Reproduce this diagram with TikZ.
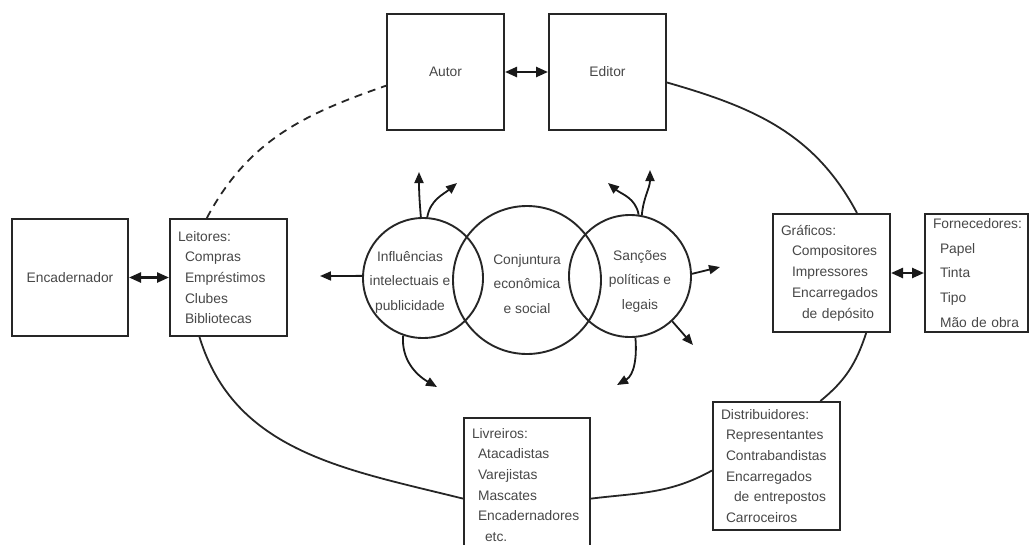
\documentclass[tikz,border=0pt]{standalone}
\usepackage{fontspec}
\setmainfont{Liberation Sans}
\usetikzlibrary{arrows.meta}

\begin{document}
\begin{tikzpicture}[
  x=1pt, y=1pt,
  every node/.style={font=\fontsize{13.8}{20.7}\selectfont, text=black!72},
  actor/.style={rectangle, draw=black!85, line width=2pt, inner xsep=8pt,
                inner ysep=0pt, align=left},
  sphere/.style={circle, draw=black!85, line width=1.9pt, inner sep=0pt},
  flow/.style={-{Triangle[length=11pt,width=9pt]}, line width=1.8pt, draw=black!90},
  duo/.style={{Triangle[length=12pt,width=10pt]}-{Triangle[length=12pt,width=10pt]},
              line width=2.4pt, draw=black!90},
  rim/.style={line width=1.8pt, draw=black!85}
]
\useasboundingbox (0,0) rectangle (1030,-544);
\clip (0,0) rectangle (1030,-544);

% agents
\node[actor, minimum width=117pt, minimum height=116pt] (autor)  at (445.5,-72) {Autor};
\node[actor, minimum width=117pt, minimum height=116pt] (editor) at (607.5,-72) {Editor};
\node[actor, minimum width=116pt, minimum height=117pt] (encad)  at (70,-277.5) {Encadernador};
\node[actor, text width=101pt, minimum height=117pt] (leitores) at (228.5,-277.5)
  {Leitores:\\\hspace*{7pt}Compras\\\hspace*{7pt}Empréstimos\\\hspace*{7pt}Clubes\\\hspace*{7pt}Bibliotecas};
\node[actor, text width=101pt, minimum height=118pt] (graficos) at (831.5,-273)
  {Gráficos:\\\hspace*{11pt}Compositores\\\hspace*{11pt}Impressores\\\hspace*{11pt}Encarregados\\\hspace*{21pt}de depósito};
\node[actor, text width=87pt, minimum height=118pt, font=\fontsize{13.8}{24.6}\selectfont] (fornec) at (976.5,-273)
  {Fornecedores:\\\hspace*{7pt}Papel\\\hspace*{7pt}Tinta\\\hspace*{7pt}Tipo\\\hspace*{7pt}Mão de obra};
\node[actor, text width=110pt, minimum height=134pt] (livreiros) at (527,-485)
  {Livreiros:\\\hspace*{6pt}Atacadistas\\\hspace*{6pt}Varejistas\\\hspace*{6pt}Mascates\\\hspace*{6pt}Encadernadores\\\hspace*{13pt}etc.};
\node[actor, text width=111pt, minimum height=128pt] (distrib) at (776.5,-466)
  {Distribuidores:\\\hspace*{5pt}Representantes\\\hspace*{5pt}Contrabandistas\\\hspace*{5pt}Encarregados\\\hspace*{13pt}de entrepostos\\\hspace*{5pt}Carroceiros};

% context circles
\node[sphere, minimum size=148pt] (conj) at (527,-280) {};
\node[sphere, minimum size=120pt] (infl) at (423,-278) {};
\node[sphere, minimum size=122pt] (sanc) at (630,-276) {};
\node[align=center, font=\fontsize{13.8}{24.5}\selectfont] (inflTxt) at (410,-282) {Influências\\intelectuais e\\publicidade};
\node[align=center, font=\fontsize{13.8}{24.5}\selectfont] (conjTxt) at (527,-284) {Conjuntura\\econômica\\e social};
\node[align=center, font=\fontsize{13.8}{24.5}\selectfont] (sancTxt) at (640,-281) {Sanções\\políticas e\\legais};

% free ends of the influence arrows
\coordinate (inflW)  at (320,-276);
\coordinate (inflN1) at (419,-172);
\coordinate (inflN2) at (457,-183);
\coordinate (inflS)  at (437,-387);
\coordinate (sancN1) at (650,-170);
\coordinate (sancN2) at (608,-183);
\coordinate (sancE)  at (720,-267);
\coordinate (sancSE) at (693,-345);
\coordinate (sancS)  at (617,-385);

\draw[flow] (infl.178) -- (inflW);
\draw[flow] (infl.92)  to[out=95,in=-90]   (inflN1);
\draw[flow] (infl.86)  to[out=80,in=-140]  (inflN2);
\draw[flow] (infl.-109) to[out=-95,in=150] (inflS);
\draw[flow] (sanc.79)  to[out=85,in=-90]   (sancN1);
\draw[flow] (sanc.82)  to[out=100,in=-40]  (sancN2);
\draw[flow] (sanc.2)   -- (sancE);
\draw[flow] (sanc.-47) -- (sancSE);
\draw[flow] (sanc.-85) to[out=-85,in=30]   (sancS);

% exchanges
\draw[duo] (autor) -- (editor);
\draw[duo] (encad) -- (leitores);
\draw[duo] (graficos) -- (fornec);

% the communication circuit
\draw[rim] (editor.-10) to[out=-16,in=118] (graficos.67);
\draw[rim] (graficos.-60) to[out=-108,in=39] (distrib.56);
\draw[rim] (distrib.184) to[out=209,in=7] (livreiros.-12);
\draw[rim] (leitores.-116) to[out=-73,in=166] (livreiros.192);
\draw[rim, dash pattern=on 8pt off 6pt] (leitores.110) to[out=62,in=-161] (autor.193);
\end{tikzpicture}
\end{document}
